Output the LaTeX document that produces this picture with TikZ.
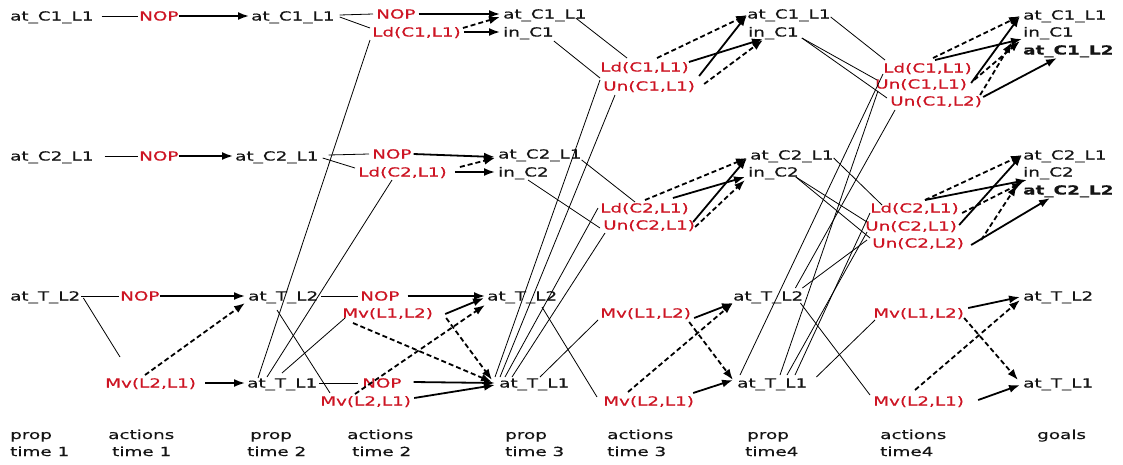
\documentclass[tikz,border=0pt]{standalone}
\usepackage{fontspec}
\setmainfont{DejaVu Sans}[FakeStretch=1.47, FakeBold=0.35]
\usetikzlibrary{arrows.meta}
\definecolor{actred}{RGB}{205,20,35}
\newcommand\lblfont{\fontsize{12.5pt}{14pt}\selectfont}
\tikzset{
 prop/.style={anchor=west, inner sep=0pt, text height=9pt, text depth=0pt, font=\lblfont, text=black!92},
 act/.style={prop, text=actred},
 goalb/.style={prop, font=\lblfont\bfseries},
 capt/.style={anchor=base west, inner sep=0pt, font=\lblfont, text=black!92},
 pre/.style={line width=0.8pt, black},
 add/.style={line width=1.8pt, black, -{Latex[length=11pt,width=8pt]}},
 del/.style={add, dash pattern=on 5pt off 3pt},
}
\begin{document}
\begin{tikzpicture}[x=1pt,y=-1pt]
\fill[white] (0,0) rectangle (1123,464);
\useasboundingbox (0,0) rectangle (1123,464);
% prop time 1
\node[prop] (p1c1) at (10,16) {at\_C1\_L1};
\node[prop] (p1c2) at (10,156) {at\_C2\_L1};
\node[prop] (p1t2) at (10,296) {at\_T\_L2};
% actions time 1
\node[act] (a1n1) at (139,16) {NOP};
\node[act] (a1n2) at (139,156) {NOP};
\node[act] (a1n3) at (120,296) {NOP};
\node[act] (a1mv) at (105,383) {Mv(L2,L1)};
% prop time 2
\node[prop] (p2c1) at (251,16) {at\_C1\_L1};
\node[prop] (p2c2) at (235,156) {at\_C2\_L1};
\node[prop] (p2t2) at (248,296) {at\_T\_L2};
\node[prop] (p2t1) at (247,383) {at\_T\_L1};
% actions time 2
\node[act] (a2n1) at (376,14) {NOP};
\node[act] (a2ld1) at (372,32) {Ld(C1,L1)};
\node[act] (a2n2) at (372,154) {NOP};
\node[act] (a2ld2) at (358,172) {Ld(C2,L1)};
\node[act] (a2n3) at (360,296) {NOP};
\node[act] (a2mv12) at (342,313) {Mv(L1,L2)};
\node[act] (a2n4) at (362,383) {NOP};
\node[act] (a2mv21) at (320,401) {Mv(L2,L1)};
% prop time 3
\node[prop] (p3c1) at (503,14) {at\_C1\_L1};
\node[prop] (p3i1) at (503,32) {in\_C1};
\node[prop] (p3c2) at (498,154) {at\_C2\_L1};
\node[prop] (p3i2) at (498,172) {in\_C2};
\node[prop] (p3t2) at (487,296) {at\_T\_L2};
\node[prop] (p3t1) at (499,383) {at\_T\_L1};
% actions time 3
\node[act] (a3ld1) at (600,67) {Ld(C1,L1)};
\node[act] (a3un1) at (603,86) {Un(C1,L1)};
\node[act] (a3ld2) at (600,208) {Ld(C2,L1)};
\node[act] (a3un2) at (603,225) {Un(C2,L1)};
\node[act] (a3mv12) at (600,313) {Mv(L1,L2)};
\node[act] (a3mv21) at (603,401) {Mv(L2,L1)};
% prop time 4
\node[prop] (p4c1) at (747,14) {at\_C1\_L1};
\node[prop] (p4i1) at (748,32) {in\_C1};
\node[prop] (p4c2) at (750,155) {at\_C2\_L1};
\node[prop] (p4i2) at (748,172) {in\_C2};
\node[prop] (p4t2) at (733,296) {at\_T\_L2};
\node[prop] (p4t1) at (737,383) {at\_T\_L1};
% actions time 4
\node[act] (a4ld1) at (883,68) {Ld(C1,L1)};
\node[act] (a4un11) at (875,84) {Un(C1,L1)};
\node[act] (a4un12) at (890,101) {Un(C1,L2)};
\node[act] (a4ld2) at (870,208) {Ld(C2,L1)};
\node[act] (a4un21) at (865,226) {Un(C2,L1)};
\node[act] (a4un22) at (872,243) {Un(C2,L2)};
\node[act] (a4mv12) at (873,313) {Mv(L1,L2)};
\node[act] (a4mv21) at (873,401) {Mv(L2,L1)};
% goals
\node[prop] (gc1) at (1023,15) {at\_C1\_L1};
\node[prop] (gi1) at (1023,32) {in\_C1};
\node[goalb] (gc12) at (1023,50) {at\_C1\_L2};
\node[prop] (gc2) at (1023,155) {at\_C2\_L1};
\node[prop] (gi2) at (1023,172) {in\_C2};
\node[goalb] (gc22) at (1023,190) {at\_C2\_L2};
\node[prop] (gt2) at (1023,296) {at\_T\_L2};
\node[prop] (gt1) at (1023,383) {at\_T\_L1};
% captions
\node[capt] (c1a) at (10,439) {prop};   \node[capt] (c1b) at (10,456) {time 1};
\node[capt] (c2a) at (108,439) {actions}; \node[capt] (c2b) at (112,456) {time 1};
\node[capt] (c3a) at (250,439) {prop};  \node[capt] (c3b) at (247,456) {time 2};
\node[capt] (c4a) at (347,439) {actions}; \node[capt] (c4b) at (352,456) {time 2};
\node[capt] (c5a) at (505,439) {prop};  \node[capt] (c5b) at (505,456) {time 3};
\node[capt] (c6a) at (607,439) {actions}; \node[capt] (c6b) at (607,456) {time 3};
\node[capt] (c7a) at (747,439) {prop};  \node[capt] (c7b) at (745,456) {time4};
\node[capt] (c8a) at (880,439) {actions}; \node[capt] (c8b) at (880,456) {time4};
\node[capt] (c9a) at (1037,439) {goals};
% ---- level 1
\draw[pre] ([shift={(8,0)}]p1c1.east) -- ([shift={(-1,0)}]a1n1.west);
\draw[add] (a1n1.east) -- ([shift={(-2,0)}]p2c1.west);
\draw[pre] ([shift={(11,0)}]p1c2.east) -- ([shift={(-1,0)}]a1n2.west);
\draw[add] (a1n2.east) -- ([shift={(-2,0)}]p2c2.west);
\draw[pre] ([shift={(1,0)}]p1t2.east) -- ([shift={(-1,0)}]a1n3.west);
\draw[add] (a1n3.east) -- ([shift={(-3,0)}]p2t2.west);
\draw[pre] ([shift={(3,2)}]p1t2.east) -- ([shift={(15,-26)}]a1mv.west);
\draw[add] ([shift={(9,0)}]a1mv.east) -- ([shift={(-2,0)}]p2t1.west);
\draw[del] ([shift={(40,-8)}]a1mv.west) -- ([shift={(-3,7)}]p2t2.west);
% ---- level 2 preconditions
\draw[pre] ([shift={(5,-1)}]p2c1.east) -- ([shift={(-3,0)}]a2n1.west);
\draw[pre] ([shift={(5,1)}]p2c1.east) -- ([shift={(-2,-4)}]a2ld1.west);
\draw[pre] ([shift={(10,-1)}]p2c2.east) -- ([shift={(-3,0)}]a2n2.west);
\draw[pre] ([shift={(4,2)}]p2c2.east) -- ([shift={(-3,-4)}]a2ld2.west);
\draw[pre] ([shift={(11,-5)}]p2t1.west) -- ([shift={(-2,8)}]a2ld1.west);
\draw[pre] ([shift={(20,-6)}]p2t1.west) -- ([shift={(34,8)}]a2ld2.west);
\draw[pre] ([shift={(3,0)}]p2t2.east) -- ([shift={(-2,0)}]a2n3.west);
\draw[pre] ([shift={(29,14)}]p2t2.west) -- ([shift={(10,-8)}]a2mv21.west);
\draw[pre] ([shift={(2,0)}]p2t1.east) -- ([shift={(-4,0)}]a2n4.west);
\draw[pre] ([shift={(35,-10)}]p2t1.west) -- ([shift={(3,5)}]a2mv12.west);
% ---- level 2 effects
\draw[add] ([shift={(3,0)}]a2n1.east) -- ([shift={(-3,0)}]p3c1.west);
\draw[add] ([shift={(3,0)}]a2ld1.east) -- ([shift={(-3,0)}]p3i1.west);
\draw[del] ([shift={(2,-4)}]a2ld1.east) -- ([shift={(-3,3)}]p3c1.west);
\draw[add] ([shift={(2,0)}]a2n2.east) -- ([shift={(-3,3)}]p3c2.west);
\draw[add] ([shift={(8,0)}]a2ld2.east) -- ([shift={(-3,0)}]p3i2.west);
\draw[del] ([shift={(13,-5)}]a2ld2.east) -- ([shift={(-3,4)}]p3c2.west);
\draw[add] ([shift={(8,0)}]a2n3.east) -- ([shift={(-2,0)}]p3t2.west);
\draw[add] ([shift={(12,1)}]a2mv12.east) -- ([shift={(-3,2)}]p3t2.west);
\draw[del] ([shift={(13,5)}]a2mv12.east) -- ([shift={(-7,-3)}]p3t1.west);
\draw[del] ([shift={(11,10)}]a2mv12.west) -- ([shift={(-7,-1)}]p3t1.west);
\draw[add] ([shift={(12,-1)}]a2n4.east) -- ([shift={(-4,0)}]p3t1.west);
\draw[add] ([shift={(3,-3)}]a2mv21.east) -- ([shift={(-4,2)}]p3t1.west);
\draw[del] ([shift={(35,-7)}]a2mv21.west) -- ([shift={(-2,9)}]p3t2.west);
% ---- level 3 preconditions
\draw[pre] ([shift={(-11,4)}]p3c1.east) -- ([shift={(27,-9)}]a3ld1.west);
\draw[pre] ([shift={(0,9)}]p3i1.east) -- ([shift={(-3,-8)}]a3un1.west);
\draw[pre] ([shift={(-4,-6)}]p3t1.west) -- ([shift={(0,13)}]a3ld1.west);
\draw[pre] ([shift={(1,-6)}]p3t1.west) -- ([shift={(12,9)}]a3un1.west);
\draw[pre] ([shift={(6,-6)}]p3t1.west) -- ([shift={(-2,0)}]a3ld2.west);
\draw[pre] ([shift={(13,-6)}]p3t1.west) -- ([shift={(2,8)}]a3un2.west);
\draw[pre] ([shift={(0,6)}]p3c2.east) -- ([shift={(35,-6)}]a3ld2.west);
\draw[pre] ([shift={(30,8)}]p3i2.west) -- ([shift={(-3,3)}]a3un2.west);
\draw[pre] ([shift={(41,-6)}]p3t1.west) -- ([shift={(-2,7)}]a3mv12.west);
\draw[pre] ([shift={(55,11)}]p3t2.west) -- ([shift={(-6,-4)}]a3mv21.west);
% ---- level 3 effects
\draw[add] ([shift={(0,-5)}]a3ld1.east) -- ([shift={(15,7)}]p4i1.west);
\draw[del] ([shift={(57,-9)}]a3ld1.west) -- ([shift={(0,1)}]p4c1.west);
\draw[add] ([shift={(4,-10)}]a3un1.east) -- ([shift={(0,1)}]p4c1.west);
\draw[del] ([shift={(9,-2)}]a3un1.east) -- ([shift={(15,8)}]p4i1.west);
\draw[del] ([shift={(45,-8)}]a3ld2.west) -- ([shift={(-3,3)}]p4c2.west);
\draw[add] ([shift={(-16,-10)}]a3ld2.east) -- ([shift={(-3,5)}]p4i2.west);
\draw[add] ([shift={(-2,-3)}]a3un2.east) -- ([shift={(-3,3)}]p4c2.west);
\draw[del] ([shift={(0,2)}]a3un2.east) -- ([shift={(-3,8)}]p4i2.west);
\draw[add] ([shift={(3,5)}]a3mv12.east) -- ([shift={(0,7)}]p4t2.west);
\draw[del] ([shift={(-2,9)}]a3mv12.east) -- ([shift={(-4,-3)}]p4t1.west);
\draw[add] ([shift={(-1,-8)}]a3mv21.east) -- ([shift={(-4,-3)}]p4t1.west);
\draw[del] ([shift={(25,-9)}]a3mv21.west) -- ([shift={(0,7)}]p4t2.west);
% ---- level 4 preconditions
\draw[pre] ([shift={(0,3)}]p4c1.east) -- ([shift={(2,-8)}]a4ld1.west);
\draw[pre] ([shift={(3,6)}]p4i1.east) -- ([shift={(2,-4)}]a4un11.west);
\draw[pre] ([shift={(3,6)}]p4i1.east) -- ([shift={(-3,-3)}]a4un12.west);
\draw[pre] ([shift={(3,-8)}]p4t1.west) -- ([shift={(0,6)}]a4ld1.west);
\draw[pre] ([shift={(43,-8)}]p4t1.west) -- ([shift={(3,7)}]a4un11.west);
\draw[pre] ([shift={(58,-8)}]p4t1.west) -- ([shift={(0,5)}]a4ld2.west);
\draw[pre] ([shift={(50,-8)}]p4t1.west) -- ([shift={(2,6)}]a4un21.west);
\draw[pre] ([shift={(0,3)}]p4c2.east) -- ([shift={(12,-3)}]a4ld2.west);
\draw[pre] ([shift={(-3,5)}]p4i2.east) -- ([shift={(2,-4)}]a4un21.west);
\draw[pre] ([shift={(-3,5)}]p4i2.east) -- ([shift={(-2,-5)}]a4un22.west);
\draw[pre] ([shift={(-1,-8)}]p4t2.east) -- ([shift={(-5,-3)}]a4un22.west);
\draw[pre] ([shift={(-8,-8)}]p4t2.east) -- ([shift={(5,9)}]a4un12.west);
\draw[pre] ([shift={(9,-6)}]p4t1.east) -- ([shift={(2,7)}]a4mv12.west);
\draw[pre] ([shift={(-3,7)}]p4t2.east) -- ([shift={(-3,-6)}]a4mv21.west);
% ---- level 4 effects
\draw[del] ([shift={(50,-10)}]a4ld1.west) -- ([shift={(-3,1)}]gc1.west);
\draw[add] ([shift={(52,-8)}]a4ld1.west) -- ([shift={(-1,7)}]gi1.west);
\draw[add] ([shift={(4,-1)}]a4un11.east) -- ([shift={(-3,1)}]gc1.west);
\draw[del] ([shift={(7,-4)}]a4un11.east) -- ([shift={(-3,9)}]gi1.west);
\draw[add] ([shift={(1,-4)}]a4un12.east) -- ([shift={(34,8)}]gc12.west);
\draw[del] ([shift={(-2,-6)}]a4un12.east) -- ([shift={(-11,10)}]gi1.west);
\draw[del] ([shift={(55,-8)}]a4ld2.west) -- ([shift={(-1,0)}]gc2.west);
\draw[add] ([shift={(55,-8)}]a4ld2.west) -- ([shift={(4,8)}]gi2.west);
\draw[add] ([shift={(2,-1)}]a4un21.east) -- ([shift={(-1,0)}]gc2.west);
\draw[del] ([shift={(5,-13)}]a4un21.east) -- ([shift={(0,10)}]gi2.west);
\draw[add] ([shift={(7,2)}]a4un22.east) -- ([shift={(27,8)}]gc22.west);
\draw[del] ([shift={(17,-3)}]a4un22.east) -- ([shift={(-6,13)}]gi2.west);
\draw[add] ([shift={(4,-5)}]a4mv12.east) -- ([shift={(-3,1)}]gt2.west);
\draw[del] ([shift={(0,5)}]a4mv12.east) -- ([shift={(-5,-3)}]gt1.west);
\draw[add] ([shift={(14,-1)}]a4mv21.east) -- ([shift={(-3,2)}]gt1.west);
\draw[del] ([shift={(42,-11)}]a4mv21.west) -- ([shift={(-3,4)}]gt2.west);
\end{tikzpicture}
\end{document}
